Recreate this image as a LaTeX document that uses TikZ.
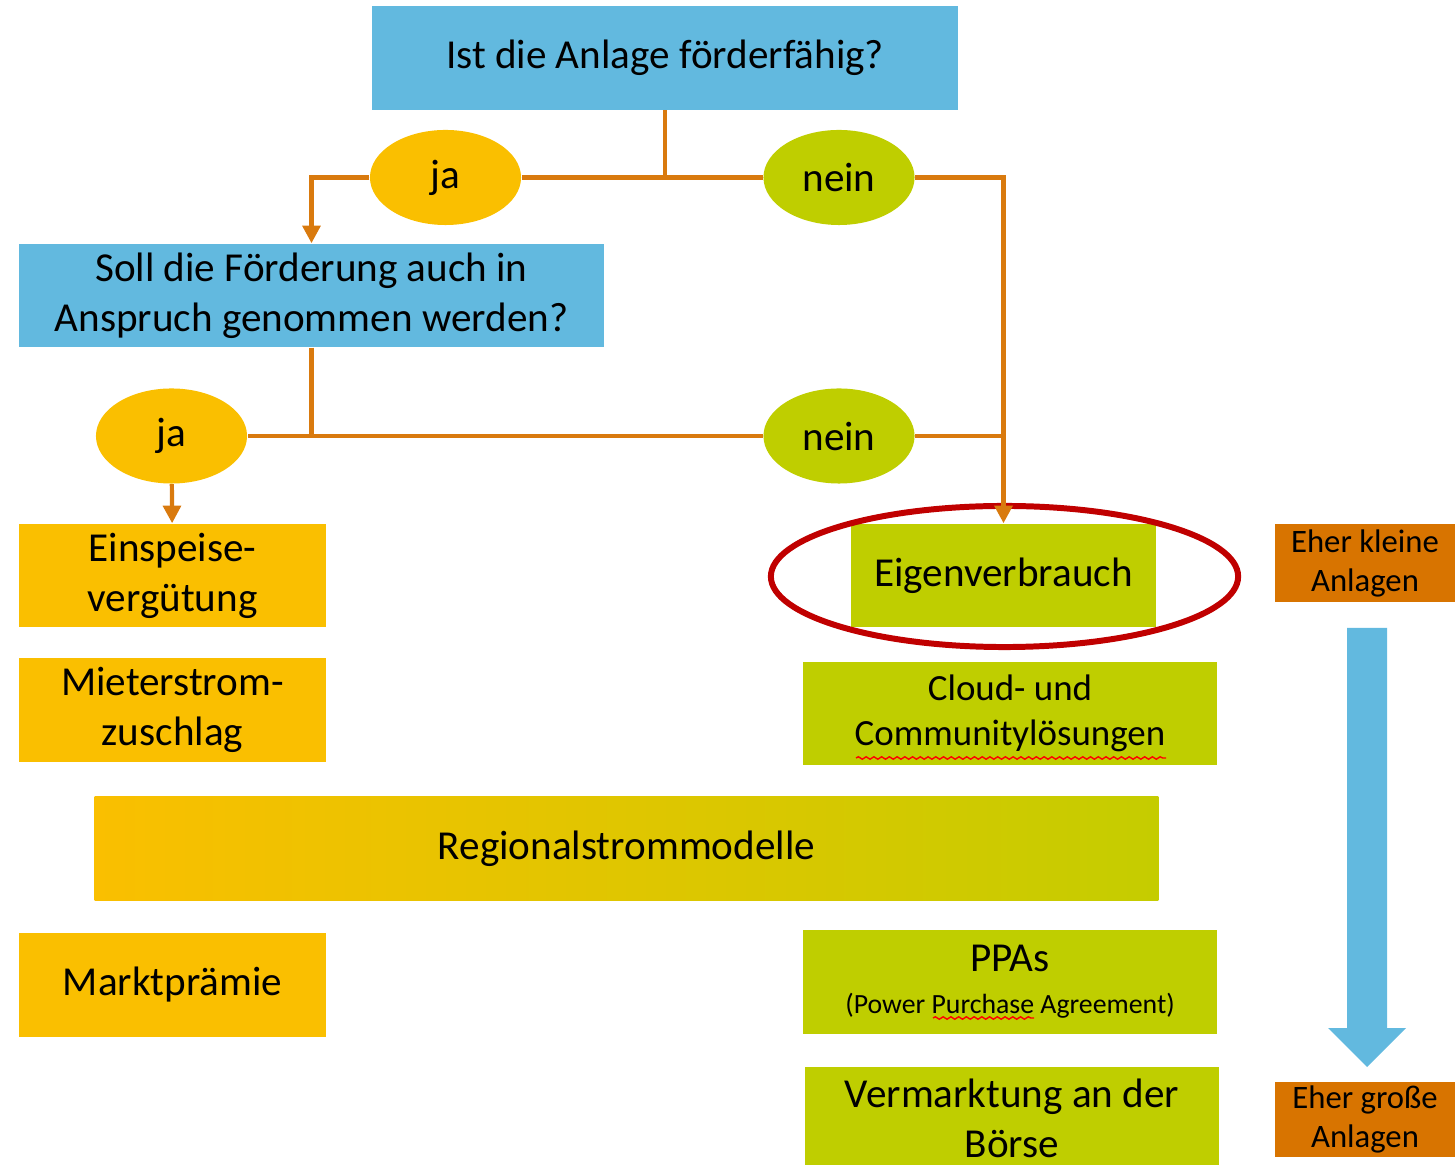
\documentclass[tikz,border=0pt]{standalone}
\usepackage{fontspec}
\setmainfont{Carlito}
\usetikzlibrary{arrows.meta,shapes.geometric,decorations.pathmorphing}
\definecolor{frageblau}{HTML}{62B9DF}
\definecolor{jagelb}{HTML}{FABF00}
\definecolor{neingruen}{HTML}{BFCE00}
\definecolor{linie}{HTML}{D97A0E}
\definecolor{hinweis}{HTML}{D87400}
\definecolor{kreisrot}{HTML}{C00000}
\tikzset{
  box/.style={rectangle, inner sep=0pt, align=center, minimum height=1.03cm,
    font=\fontsize{11.7}{14.2}\selectfont},
  frage/.style={box, fill=frageblau, minimum width=5.86cm},
  gelb/.style={box, fill=jagelb, minimum width=3.07cm},
  gruen/.style={box, fill=neingruen, minimum width=4.14cm},
  antwort/.style={ellipse, inner sep=0pt, minimum width=1.51cm, minimum height=0.95cm,
    font=\fontsize{11.7}{14.2}\selectfont},
  ja/.style={antwort, fill=jagelb},
  nein/.style={antwort, fill=neingruen},
  hinweisbox/.style={rectangle, inner sep=0pt, fill=hinweis, align=center,
    minimum width=1.8cm, font=\fontsize{9.3}{11.1}\selectfont},
  link/.style={draw=linie, line width=1.2pt},
  pfeil/.style={link, -{Triangle[width=5pt,length=5pt]}},
  wellig/.style={draw=red, line width=0.4pt, decorate,
    decoration={snake, amplitude=0.35pt, segment length=2.2pt}}
}
\begin{document}
\begin{tikzpicture}[x=0.01cm, y=-0.01cm]
  \useasboundingbox (0,0) rectangle (1455,1165);
  \node[frage] (frage) at (665,58) {Ist die Anlage förderfähig?};
  \node[ja] (ja1) at (445.5,177.5) {ja};
  \node[nein] (nein1) at (839,177.5) {nein};
  \node[frage, minimum width=5.85cm] (soll) at (311.5,295.5) {Soll die Förderung auch in\\Anspruch genommen werden?};
  \node[ja] (ja2) at (171.5,436) {ja};
  \node[nein] (nein2) at (839,436) {nein};
  \node[gelb] (einspeise) at (172.5,575.5) {Einspeise-\\vergütung};
  \node[gelb] (mieter) at (172.5,710) {Mieterstrom-\\zuschlag};
  \node[box, minimum width=10.63cm, left color=jagelb, right color=neingruen!90!jagelb] (region) at (626.5,848.5) {Regionalstrommodelle};
  \node[gelb] (markt) at (172.5,985) {Marktprämie};
  \node[gruen, minimum width=3.05cm] (eigen) at (1003.5,575.5) {Eigenverbrauch};
  \node[gruen, font=\fontsize{10.5}{13}\selectfont] (cloud) at (1010,713.5) {Cloud- und\\Communitylösungen};
  \node[gruen, font=\fontsize{11.7}{12}\selectfont] (ppa) at (1010,982) {PPAs\\{\fontsize{7.9}{10}\selectfont(Power Purchase Agreement)}};
  \node[gruen] (markt2) at (1012,1118.5) {Vermarktung an der\\Börse};
  \node[hinweisbox, minimum height=0.78cm] (klein) at (1365,563) {Eher kleine\\Anlagen};
  \node[hinweisbox, minimum height=0.75cm] (gross) at (1365,1119.5) {Eher große\\Anlagen};
  \node[ellipse, draw=kreisrot, line width=1.7pt, minimum width=4.67cm, minimum height=1.41cm] (ring) at (1004.5,576.5) {};
  \begin{scope}[link]
    \draw (frage) -- (frage |- ja1);
    \draw (ja1) -- (nein1);
    \draw[pfeil] (ja1.west) -| (soll.north);
    \draw[pfeil] (nein1.east) -| (eigen.north);
    \draw (soll) -- (soll |- ja2);
    \draw (ja2) -- (nein2);
    \draw (nein2.east) -- (eigen.north |- nein2);
    \draw[pfeil] (ja2) -- (einspeise);
  \end{scope}
  \fill[frageblau] (1347,628) -- (1387,628) -- (1387,1028) -- (1406,1028)
    -- (1367,1067) -- (1328,1028) -- (1347,1028) -- cycle;
  \draw[wellig] (856,758) -- (1166,758);
  \draw[wellig] (933,1018) -- (1034,1018);
\end{tikzpicture}
\end{document}
